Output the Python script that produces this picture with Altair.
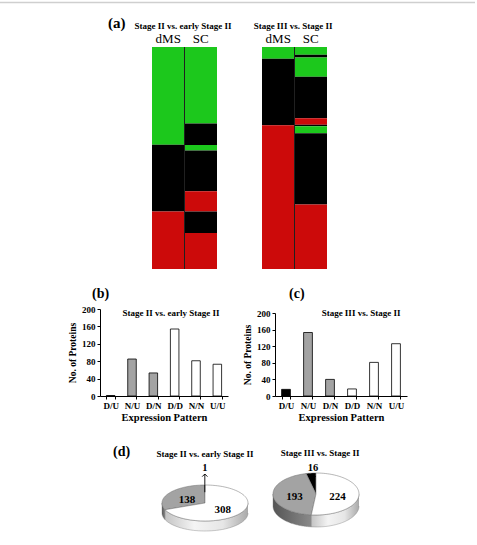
import altair as alt
import pandas as pd

SERIF = "Liberation Serif"
GREEN = "#1cc81c"
RED = "#cc0a0a"
GRAY = "#a3a3a3"
W, H = 477, 545

# Expression patterns (dMS / SC) with the number of proteins in each comparison
patterns = ["D/U", "N/U", "D/N", "D/D", "N/N", "U/U"]
pattern_class = ["black", "gray", "gray", "white", "white", "white"]
counts_stage2 = [1, 85, 53, 154, 81, 73]
counts_stage3 = [16, 153, 40, 17, 81, 126]

comparisons = ["Stage II vs. early Stage II", "Stage III vs. Stage II"]

# Heat-map strips: segment edges (percent of rows, top to bottom) and states
heat_columns = ["dMS", "SC"]
s2_dms_edges = [0, 44.0, 74.1, 100]
s2_dms_states = ["down", "none", "up"]
s2_sc_edges = [0, 34.5, 44.1, 46.6, 65.0, 74.1, 83.8, 100]
s2_sc_states = ["down", "none", "down", "none", "up", "none", "up"]
s3_dms_edges = [0, 5.3, 35.2, 100]
s3_dms_states = ["down", "none", "up"]
s3_sc_edges = [0, 3.5, 4.7, 13.4, 32.1, 35.0, 35.7, 38.8, 70.9, 100]
s3_sc_states = ["down", "none", "down", "none", "up", "none", "down", "none", "up"]


def text_at(text, x, y, size, weight="bold", align="center"):
    """A free-standing label placed in page pixels."""
    return alt.Chart(pd.DataFrame({"t": [text]})).mark_text(
        font=SERIF, fontSize=size, fontWeight=weight, align=align, baseline="middle"
    ).encode(x=alt.value(x), y=alt.value(y), text="t:N")


# ---------- (a) heat maps ----------
heat_rows = []
for panel, strips in zip(comparisons, [
    [("dMS", s2_dms_edges, s2_dms_states), ("SC", s2_sc_edges, s2_sc_states)],
    [("dMS", s3_dms_edges, s3_dms_states), ("SC", s3_sc_edges, s3_sc_states)],
]):
    for col, edges, states in strips:
        for i, st in enumerate(states):
            heat_rows.append({"panel": panel, "column": col,
                              "start": edges[i], "end": edges[i + 1], "state": st})
heat_df = pd.DataFrame(heat_rows)

HX = alt.Scale(domain=comparisons, range=[152, 327], paddingInner=45 / 110, paddingOuter=0)
HXO = alt.Scale(domain=heat_columns, paddingInner=0, paddingOuter=0)
HY = alt.Scale(domain=[0, 100], range=[47, 269], nice=False, zero=False)

heat_cells = alt.Chart(heat_df).mark_rect().encode(
    x=alt.X("panel:N", scale=HX, axis=None),
    xOffset=alt.XOffset("column:N", scale=HXO, sort=heat_columns),
    y=alt.Y("start:Q", scale=HY, axis=None),
    y2="end:Q",
    color=alt.Color("state:N",
                    scale=alt.Scale(domain=["up", "down", "none"], range=[RED, GREEN, "#000000"]),
                    legend=None),
)
col_df = pd.DataFrame([{"panel": p, "column": c} for p in comparisons for c in heat_columns])
heat_cols = alt.Chart(col_df).mark_text(font=SERIF, fontSize=13, baseline="middle").encode(
    x=alt.X("panel:N", scale=HX, axis=None),
    xOffset=alt.XOffset("column:N", scale=HXO, sort=heat_columns),
    y=alt.value(39),
    text="column:N",
)
panel_df = pd.DataFrame({"panel": comparisons})
heat_divider = alt.Chart(panel_df).mark_rule(color="#202020", strokeWidth=1).encode(
    x=alt.X("panel:N", scale=HX, axis=None),
    y=alt.datum(0),
    y2=alt.datum(100),
)
heat_titles = alt.Chart(panel_df).mark_text(
    font=SERIF, fontSize=9, fontWeight="bold", baseline="middle", dx=-1.5
).encode(
    x=alt.X("panel:N", scale=HX, axis=None),
    y=alt.value(26),
    text="panel:N",
)
heat = alt.layer(heat_cells, heat_divider, heat_cols, heat_titles)


# ---------- (b), (c) bar charts ----------
def bar_panel(values, x_range, y_range, tag, tag_x, title, title_x, title_y):
    frame = pd.DataFrame({"pattern": patterns, "cls": pattern_class, "value": values})
    bars = alt.Chart(frame).mark_bar(stroke="black", strokeWidth=0.8).encode(
        x=alt.X("pattern:N", sort=patterns,
                scale=alt.Scale(domain=patterns, range=x_range, paddingInner=0.6, paddingOuter=0.3),
                axis=alt.Axis(orient="bottom", offset=-(H - y_range[0]),
                              title="Expression Pattern", labelAngle=0, tickBand="extent",
                              tickSize=3, labelPadding=2, labelFontSize=9, labelFontWeight="bold",
                              titleFontSize=10.5, titleFontWeight="bold", titlePadding=2)),
        y=alt.Y("value:Q",
                scale=alt.Scale(domain=[0, 200], range=y_range, nice=False, zero=False),
                axis=alt.Axis(orient="left", offset=-x_range[0],
                              title="No. of Proteins", values=[0, 40, 80, 120, 160, 200],
                              tickSize=3, labelPadding=2, labelFontSize=9, labelFontWeight="bold",
                              titleFontSize=9.5, titleFontWeight="bold", titlePadding=4)),
        fill=alt.Fill("cls:N",
                      scale=alt.Scale(domain=["black", "gray", "white"],
                                      range=["#000000", GRAY, "#ffffff"]),
                      legend=None),
    )
    return alt.layer(
        bars,
        text_at(title, title_x, title_y, 9),
        text_at(tag, tag_x, 294, 14, align="left"),
    )


bar_b = bar_panel(counts_stage2, [100, 228], [396, 309], "(b)", 92, comparisons[0], 171, 313)
bar_c = bar_panel(counts_stage3, [275, 407], [396, 313], "(c)", 289, comparisons[1], 361, 313)


# ---------- (d) 3-D pies ----------
XS = alt.Scale(domain=[0, W], range=[0, W], nice=False, zero=False)
YS = alt.Scale(domain=[0, H], range=[0, H], nice=False, zero=False)
PIE_COLORS = alt.Scale(domain=["black", "gray", "white"], range=["#000000", GRAY, "#ffffff"])
RIM_STOPS = {
    "white": [("#c4c4c4", 0), ("#f4f4f4", 0.35), ("#e6e6e6", 0.7), ("#a9a9a9", 1)],
    "gray": [("#555555", 0), ("#8a8a8a", 1)],
}
N = 72


def pie_layers(values, cx, cy, rx, ry, depth):
    frame = pd.DataFrame({"pattern": patterns, "cls": pattern_class, "value": values})
    base = (
        alt.Chart(frame)
        .transform_aggregate(n="sum(value)", groupby=["cls"])
        .transform_calculate(rank="datum.cls == 'white' ? 0 : (datum.cls == 'gray' ? 1 : 2)")
        .transform_window(cum="sum(n)", sort=[alt.SortField("rank")], frame=[None, 0])
        .transform_joinaggregate(total="sum(n)")
        .transform_calculate(t0="2*PI*(datum.cum - datum.n)/datum.total")
        .transform_calculate(t1="2*PI*datum.cum/datum.total")
        .transform_calculate(mid="(datum.t0 + datum.t1)/2")
    )

    # side wall of the disc (front half only)
    rim_base = (
        base.transform_calculate(a0="max(datum.t0, PI/2)")
        .transform_calculate(a1="min(datum.t1, 3*PI/2)")
        .transform_filter("datum.a1 > datum.a0")
        .transform_calculate(idx=f"sequence(0, {2 * N + 2})")
        .transform_flatten(["idx"])
        .transform_calculate(
            a=f"datum.idx <= {N} ? datum.a0 + (datum.a1 - datum.a0)*datum.idx/{N}"
              f" : datum.a1 - (datum.a1 - datum.a0)*(datum.idx - {N + 1})/{N}")
        .transform_calculate(px=f"{cx} + {rx}*sin(datum.a)")
        .transform_calculate(py=f"{cy} - {ry}*cos(datum.a) + (datum.idx > {N} ? {depth} : 0)")
    )
    rims = []
    for cls, stops in RIM_STOPS.items():
        grad = alt.Gradient(
            gradient="linear",
            stops=[alt.GradientStop(color=c, offset=o) for c, o in stops],
            x1=0, x2=1, y1=0, y2=0,
        )
        rims.append(
            rim_base.transform_filter(f"datum.cls == '{cls}'")
            .mark_line(filled=True, fill=grad, stroke="#7a7a7a", strokeWidth=0.4)
            .encode(x=alt.X("px:Q", scale=XS, axis=None),
                    y=alt.Y("py:Q", scale=YS, axis=None),
                    order="idx:Q", detail="cls:N")
        )

    # top face of each slice
    top = (
        base.transform_calculate(idx=f"sequence(0, {N + 3})")
        .transform_flatten(["idx"])
        .transform_calculate(a=f"datum.t0 + (datum.t1 - datum.t0)*clamp(datum.idx - 1, 0, {N})/{N}")
        .transform_calculate(ctr=f"datum.idx == 0 || datum.idx == {N + 2}")
        .transform_calculate(px=f"datum.ctr ? {cx} : {cx} + {rx}*sin(datum.a)")
        .transform_calculate(py=f"datum.ctr ? {cy} : {cy} - {ry}*cos(datum.a)")
        .mark_line(filled=True, stroke="#6f6f6f", strokeWidth=0.5, strokeJoin="round")
        .encode(x=alt.X("px:Q", scale=XS, axis=None),
                y=alt.Y("py:Q", scale=YS, axis=None),
                order="idx:Q", detail="cls:N",
                color=alt.Color("cls:N", scale=PIE_COLORS, legend=None))
    )

    numbers = (
        base.transform_filter("datum.cls != 'black'")
        .transform_calculate(lx=f"{cx} + 0.5*{rx}*sin(datum.mid)")
        .transform_calculate(ly=f"{cy} - 0.5*{ry}*cos(datum.mid) + 2")
        .mark_text(font=SERIF, fontSize=11, fontWeight="bold")
        .encode(x=alt.X("lx:Q", scale=XS, axis=None),
                y=alt.Y("ly:Q", scale=YS, axis=None), text="n:Q")
    )

    black = (
        base.transform_filter("datum.cls == 'black'")
        .transform_calculate(ax=f"{cx} + 0.6*{rx}*sin(datum.mid)")
        .transform_calculate(ay=f"{cy} - 0.6*{ry}*cos(datum.mid)")
        .transform_calculate(tip="474", ty="467.5")
    )
    shaft = black.mark_rule(color="black", strokeWidth=0.9).encode(
        x=alt.X("ax:Q", scale=XS, axis=None),
        y=alt.Y("ay:Q", scale=YS, axis=None), y2="tip:Q")
    head = black.mark_point(shape="M-1,1L0,0L1,1", filled=False, size=28,
                            color="black", strokeWidth=0.9, opacity=1).encode(
        x=alt.X("ax:Q", scale=XS, axis=None),
        y=alt.Y("tip:Q", scale=YS, axis=None))
    num = black.mark_text(font=SERIF, fontSize=10.5, fontWeight="bold").encode(
        x=alt.X("ax:Q", scale=XS, axis=None),
        y=alt.Y("ty:Q", scale=YS, axis=None), text="n:Q")

    return rims + [top, numbers, shaft, head, num]


pies = alt.layer(
    *pie_layers(counts_stage2, 205, 503, 43, 18, 10),
    *pie_layers(counts_stage3, 316, 494, 43, 21, 12),
)

# page frame line
frame_line = alt.Chart(pd.DataFrame({"k": [0]})).mark_rule(color="#cfcfcf", strokeWidth=1.5).encode(
    x=alt.value(0), x2=alt.value(475), y=alt.value(2.5))

chart = (
    alt.layer(
        frame_line,
        heat,
        text_at("(a)", 108, 23, 15, align="left"),
        bar_b,
        bar_c,
        pies,
        text_at("(d)", 113, 452, 14, align="left"),
        text_at(comparisons[0], 205, 454, 9),
        text_at(comparisons[1], 320, 453, 9),
    )
    .resolve_scale(x="independent", y="independent", color="independent", fill="independent")
    .resolve_axis(x="independent", y="independent")
    .properties(width=W, height=H, padding=0, background="white",
                autosize=alt.AutoSizeParams(type="none", contains="padding"))
    .configure_view(stroke=None)
    .configure_axis(labelFont=SERIF, titleFont=SERIF, labelColor="black", titleColor="black",
                    domainColor="black", tickColor="black", grid=False)
)

chart.save("out.html", embed_options={"renderer": "svg", "actions": False})
